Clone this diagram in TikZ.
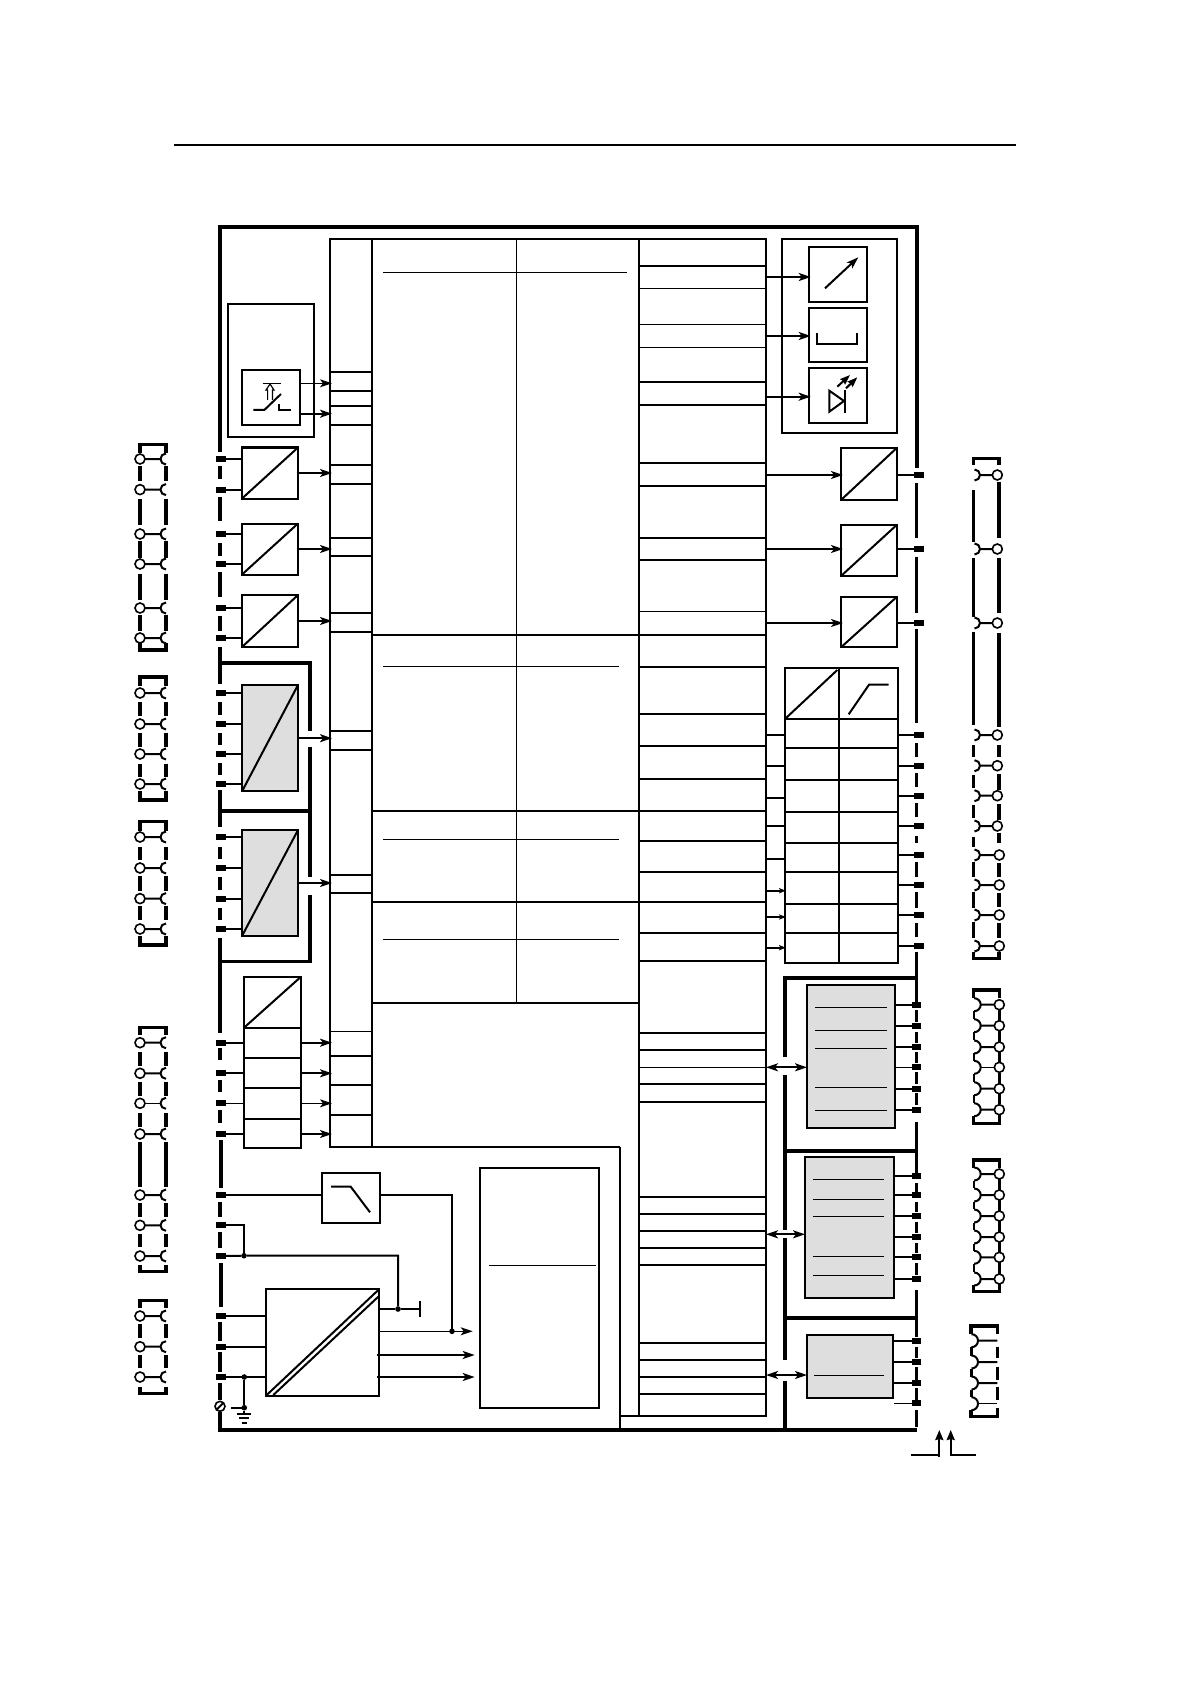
\documentclass[tikz,border=0pt]{standalone}
\usepackage{amsmath,amsthm,amssymb}
\usetikzlibrary{arrows.meta}

\begin{document}
\begin{tikzpicture}[x=0.5pt,y=0.5pt]
\tikzstyle{every node}+=[inner sep=0pt,outer sep=0pt]
\tikzstyle{frame}=[line width=1.9pt]
\tikzstyle{rail}=[line width=1.6pt]
\tikzstyle{railt}=[line width=1.2pt]
\tikzstyle{wire}=[line width=1pt]
\tikzstyle{fine}=[line width=.6pt]
\tikzstyle{box}=[draw,rectangle,line width=1pt]
\tikzstyle{greybox}=[box,fill=black!13]
\tikzstyle{term}=[fill=black,rectangle,minimum width=5pt,minimum height=3pt]
\tikzstyle{lug}=[draw,circle,fill=white,line width=.8pt,minimum size=5pt]
\tikzstyle{junc}=[fill=black,circle,minimum size=2.8pt]
\tikzstyle{arr}=[wire,shorten >=-1pt,shorten <=-.7pt,-{Stealth[length=6pt,width=4pt,inset=1.5pt]}]
\tikzstyle{arrs}=[wire,shorten >=-.5pt,shorten <=-.7pt,-{Stealth[length=3.5pt,width=2.6pt,inset=.8pt]}]
\tikzstyle{both}=[wire,{Stealth[length=6pt,width=4pt,inset=1.5pt]}-{Stealth[length=6pt,width=4pt,inset=1.5pt]}]
\useasboundingbox (0,0) rectangle (1190,-1684);
\coordinate (hdl) at (174,-145);
\coordinate (hdr) at (1016,-145);
\draw [fine] (hdl) -- (hdr);
\draw [frame] (220,-452) -- (220,-227.3) -- (916.7,-227.3) -- (916.7,-468);
\draw [frame] (220,-1411.7) -- (220,-1430) -- (916.7,-1430);
\draw [frame] (220,-663) -- (310,-663) -- (310,-730.7);
\draw [frame] (310,-746.8) -- (310,-811);
\draw [frame] (220,-811) -- (310,-811) -- (310,-877);
\draw [frame] (310,-895) -- (310,-961.5) -- (220,-961.5);
\draw [frame] (785,-1057) -- (785,-978) -- (916.7,-978);
\draw [frame] (785,-1075) -- (785,-1230);
\draw [frame] (785,-1238) -- (785,-1360);
\draw [frame] (785,-1380.7) -- (785,-1430);
\draw [frame] (785,-1150.7) -- (916.7,-1150.7);
\draw [frame] (785,-1318.3) -- (916.7,-1318.3);
\draw [rail] (220,-466.4) -- (220,-479) (220,-496.8) -- (220,-520.7) (220,-543) -- (220,-555.7) (220,-571.8) -- (220,-596.8) (220,-616.4) -- (220,-630.7) (220,-646.8) -- (220,-683.6);
\draw [rail] (220,-702) -- (220,-714.6) (220,-732.5) -- (220,-745) (220,-762.9) -- (220,-775.4) (220,-790) -- (220,-827);
\draw [rail] (220,-846.8) -- (220,-859.3) (220,-877) -- (220,-889.6) (220,-907.5) -- (220,-920) (220,-937.9) -- (220,-1032.7);
\draw [rail] (220,-1048.3) -- (220,-1060) (220,-1080) -- (220,-1092) (220,-1110) -- (220,-1123) (221,-1140) -- (221,-1188.3);
\draw [rail] (220,-1201.7) -- (220,-1216.7) (220,-1231.7) -- (220,-1248) (221,-1263.3) -- (221,-1306.7) (220,-1321.7) -- (220,-1341) (220,-1351.7) -- (220,-1371.7) (220,-1383) -- (220,-1400);
\draw [rail] (916.7,-483) -- (916.7,-538.3) (916.7,-556.7) -- (916.7,-613.3) (916.7,-629.3) -- (916.7,-722.7);
\draw [rail] (916.7,-743.3) -- (916.7,-756.7) (916.7,-773.3) -- (916.7,-787.3) (916.7,-803.3) -- (916.7,-816.7) (916.7,-836) -- (916.7,-842.7) (916.7,-861.7) -- (916.7,-876.7) (916.7,-891.7) -- (916.7,-908.3) (916.7,-923.3) -- (916.7,-936.7) (916.7,-951.7) -- (916.7,-1001.7);
\draw [rail] (916.7,-1010) -- (916.7,-1021.7) (916.7,-1031.7) -- (916.7,-1043.3) (916.7,-1051.7) -- (916.7,-1063.3) (916.7,-1071.7) -- (916.7,-1084) (916.7,-1093.3) -- (916.7,-1105) (916.7,-1121.7) -- (916.7,-1173.3);
\draw [rail] (916.7,-1183.3) -- (916.7,-1191.7) (916.7,-1201.7) -- (916.7,-1211.7) (916.7,-1221.7) -- (916.7,-1233.3) (916.7,-1243.3) -- (916.7,-1253.3) (916.7,-1263.3) -- (916.7,-1275) (916.7,-1290) -- (916.7,-1336.7);
\draw [rail] (916.7,-1346.7) -- (916.7,-1358.3) (916.7,-1366.7) -- (916.7,-1380) (916.7,-1388.3) -- (916.7,-1400) (916.7,-1410) -- (916.7,-1426.7);
\node [box,minimum width=21pt,minimum height=454pt] (busl) at (351,-693) {};
\node [box,minimum width=63.5pt,minimum height=588.5pt] (busr) at (702.5,-827.5) {};
\draw [wire] (372,-239) -- (639,-239);
\draw [wire] (372,-1147.3) -- (620,-1147.3);
\draw [wire] (620,-1147.3) -- (620,-1430);
\draw [fine] (620,-1416) -- (639,-1416);
\draw [fine] (516.7,-239) -- (516.7,-1002.7);
\draw [wire] (372,-635) -- (639,-635);
\draw [wire] (372,-811) -- (639,-811);
\draw [wire] (372,-901.8) -- (639,-901.8);
\draw [wire] (372,-1002.7) -- (639,-1002.7);
\draw [fine] (383,-272.3) -- (627,-272.3);
\draw [fine] (383,-666.4) -- (619,-666.4);
\draw [fine] (383,-839.3) -- (619,-839.3);
\draw [fine] (383,-939.3) -- (619,-939.3);
\draw [wire] (330,-372) -- (372,-372);
\draw [wire] (330,-391) -- (372,-391);
\draw [wire] (330,-406) -- (372,-406);
\draw [wire] (330,-424.7) -- (372,-424.7);
\draw [wire] (330,-464.6) -- (372,-464.6);
\draw [wire] (330,-483.6) -- (372,-483.6);
\draw [wire] (330,-537.9) -- (372,-537.9);
\draw [wire] (330,-556) -- (372,-556);
\draw [wire] (330,-612.9) -- (372,-612.9);
\draw [wire] (330,-631.8) -- (372,-631.8);
\draw [wire] (330,-731) -- (372,-731);
\draw [wire] (330,-750) -- (372,-750);
\draw [wire] (330,-875) -- (372,-875);
\draw [wire] (330,-893.2) -- (372,-893.2);
\draw [fine] (330,-1031.3) -- (372,-1031.3);
\draw [wire] (330,-1056) -- (372,-1056);
\draw [wire] (330,-1085) -- (372,-1085);
\draw [wire] (330,-1115) -- (372,-1115);
\draw [wire] (639,-265.7) -- (766,-265.7);
\draw [fine] (639,-288.3) -- (766,-288.3);
\draw [fine] (639,-324.3) -- (766,-324.3);
\draw [fine] (639,-347.3) -- (766,-347.3);
\draw [wire] (639,-381.7) -- (766,-381.7);
\draw [wire] (639,-404.7) -- (766,-404.7);
\draw [wire] (639,-463) -- (766,-463);
\draw [wire] (639,-486) -- (766,-486);
\draw [wire] (639,-538) -- (766,-538);
\draw [wire] (639,-560) -- (766,-560);
\draw [fine] (639,-611.3) -- (766,-611.3);
\draw [wire] (639,-635) -- (766,-635);
\draw [wire] (639,-666.7) -- (766,-666.7);
\draw [wire] (639,-713.7) -- (766,-713.7);
\draw [wire] (639,-746) -- (766,-746);
\draw [wire] (639,-778.7) -- (766,-778.7);
\draw [wire] (639,-811) -- (766,-811);
\draw [wire] (639,-841) -- (766,-841);
\draw [wire] (639,-871.7) -- (766,-871.7);
\draw [wire] (639,-902) -- (766,-902);
\draw [wire] (639,-932.7) -- (766,-932.7);
\draw [wire] (639,-960.7) -- (766,-960.7);
\draw [wire] (639,-1032.7) -- (766,-1032.7);
\draw [wire] (639,-1050) -- (766,-1050);
\draw [fine] (639,-1067.3) -- (766,-1067.3);
\draw [wire] (639,-1084) -- (766,-1084);
\draw [wire] (639,-1102) -- (766,-1102);
\draw [wire] (639,-1196.7) -- (766,-1196.7);
\draw [wire] (639,-1214) -- (766,-1214);
\draw [wire] (639,-1230.7) -- (766,-1230.7);
\draw [wire] (639,-1247.7) -- (766,-1247.7);
\draw [wire] (639,-1265) -- (766,-1265);
\draw [wire] (639,-1342.7) -- (766,-1342.7);
\draw [wire] (639,-1359.7) -- (766,-1359.7);
\draw [wire] (639,-1377) -- (766,-1377);
\draw [wire] (639,-1393.7) -- (766,-1393.7);
\node [term] (tl1) at (221,-459) {};
\node [lug] (pl1) at (140,-459) {};
\coordinate (hl1) at (160.5,-459);
\draw [wire] (pl1) -- (hl1) ++(5.5,5.5) arc (90:270:5.5);
\node [term] (tl2) at (221,-489.6) {};
\node [lug] (pl2) at (140,-489.6) {};
\coordinate (hl2) at (160.5,-489.6);
\draw [wire] (pl2) -- (hl2) ++(5.5,5.5) arc (90:270:5.5);
\node [term] (tl3) at (221,-534) {};
\node [lug] (pl3) at (140,-534) {};
\coordinate (hl3) at (160.5,-534);
\draw [wire] (pl3) -- (hl3) ++(5.5,5.5) arc (90:270:5.5);
\node [term] (tl4) at (221,-564) {};
\node [lug] (pl4) at (140,-564) {};
\coordinate (hl4) at (160.5,-564);
\draw [wire] (pl4) -- (hl4) ++(5.5,5.5) arc (90:270:5.5);
\node [term] (tl5) at (221,-608) {};
\node [lug] (pl5) at (140,-608) {};
\coordinate (hl5) at (160.5,-608);
\draw [wire] (pl5) -- (hl5) ++(5.5,5.5) arc (90:270:5.5);
\node [term] (tl6) at (221,-638) {};
\node [lug] (pl6) at (140,-638) {};
\coordinate (hl6) at (160.5,-638);
\draw [wire] (pl6) -- (hl6) ++(5.5,5.5) arc (90:270:5.5);
\node [term] (tl7) at (221,-693) {};
\node [lug] (pl7) at (140,-693) {};
\coordinate (hl7) at (160.5,-693);
\draw [wire] (pl7) -- (hl7) ++(5.5,5.5) arc (90:270:5.5);
\node [term] (tl8) at (221,-724) {};
\node [lug] (pl8) at (140,-724) {};
\coordinate (hl8) at (160.5,-724);
\draw [wire] (pl8) -- (hl8) ++(5.5,5.5) arc (90:270:5.5);
\node [term] (tl9) at (221,-754) {};
\node [lug] (pl9) at (140,-754) {};
\coordinate (hl9) at (160.5,-754);
\draw [wire] (pl9) -- (hl9) ++(5.5,5.5) arc (90:270:5.5);
\node [term] (tl10) at (221,-784) {};
\node [lug] (pl10) at (140,-784) {};
\coordinate (hl10) at (160.5,-784);
\draw [wire] (pl10) -- (hl10) ++(5.5,5.5) arc (90:270:5.5);
\node [term] (tl11) at (221,-837) {};
\node [lug] (pl11) at (140,-837) {};
\coordinate (hl11) at (160.5,-837);
\draw [wire] (pl11) -- (hl11) ++(5.5,5.5) arc (90:270:5.5);
\node [term] (tl12) at (221,-868) {};
\node [lug] (pl12) at (140,-868) {};
\coordinate (hl12) at (160.5,-868);
\draw [wire] (pl12) -- (hl12) ++(5.5,5.5) arc (90:270:5.5);
\node [term] (tl13) at (221,-898.6) {};
\node [lug] (pl13) at (140,-898.6) {};
\coordinate (hl13) at (160.5,-898.6);
\draw [wire] (pl13) -- (hl13) ++(5.5,5.5) arc (90:270:5.5);
\node [term] (tl14) at (221,-929) {};
\node [lug] (pl14) at (140,-929) {};
\coordinate (hl14) at (160.5,-929);
\draw [wire] (pl14) -- (hl14) ++(5.5,5.5) arc (90:270:5.5);
\node [term] (tl15) at (221,-1042.7) {};
\node [lug] (pl15) at (140,-1042.7) {};
\coordinate (hl15) at (160.5,-1042.7);
\draw [wire] (pl15) -- (hl15) ++(5.5,5.5) arc (90:270:5.5);
\node [term] (tl16) at (221,-1073.3) {};
\node [lug] (pl16) at (140,-1073.3) {};
\coordinate (hl16) at (160.5,-1073.3);
\draw [wire] (pl16) -- (hl16) ++(5.5,5.5) arc (90:270:5.5);
\node [term] (tl17) at (221,-1103.3) {};
\node [lug] (pl17) at (140,-1103.3) {};
\coordinate (hl17) at (160.5,-1103.3);
\draw [fine] (pl17) -- (hl17);
\draw [wire] (hl17) ++(5.5,5.5) arc (90:270:5.5);
\node [term] (tl18) at (221,-1134) {};
\node [lug] (pl18) at (140,-1134) {};
\coordinate (hl18) at (160.5,-1134);
\draw [wire] (pl18) -- (hl18) ++(5.5,5.5) arc (90:270:5.5);
\node [term] (tl19) at (221,-1195) {};
\node [lug] (pl19) at (140,-1195) {};
\coordinate (hl19) at (160.5,-1195);
\draw [wire] (pl19) -- (hl19) ++(5.5,5.5) arc (90:270:5.5);
\node [term] (tl20) at (221,-1225.3) {};
\node [lug] (pl20) at (140,-1225.3) {};
\coordinate (hl20) at (160.5,-1225.3);
\draw [wire] (pl20) -- (hl20) ++(5.5,5.5) arc (90:270:5.5);
\node [term] (tl21) at (221,-1256) {};
\node [lug] (pl21) at (140,-1256) {};
\coordinate (hl21) at (160.5,-1256);
\draw [wire] (pl21) -- (hl21) ++(5.5,5.5) arc (90:270:5.5);
\node [term] (tl22) at (221,-1316) {};
\node [lug] (pl22) at (140,-1316) {};
\coordinate (hl22) at (160.5,-1316);
\draw [wire] (pl22) -- (hl22) ++(5.5,5.5) arc (90:270:5.5);
\node [term] (tl23) at (221,-1346.7) {};
\node [lug] (pl23) at (140,-1346.7) {};
\coordinate (hl23) at (160.5,-1346.7);
\draw [wire] (pl23) -- (hl23) ++(5.5,5.5) arc (90:270:5.5);
\node [term] (tl24) at (221,-1377) {};
\node [lug] (pl24) at (140,-1377) {};
\coordinate (hl24) at (160.5,-1377);
\draw [wire] (pl24) -- (hl24) ++(5.5,5.5) arc (90:270:5.5);
\draw [rail] (140,-453) -- (140,-444.3) -- (166,-444.3) -- (166,-453);
\draw [rail] (140,-466.4) -- (140,-480.7) (140,-498.6) -- (140,-525.4) (140,-541.4) -- (140,-557.5) (140,-573.6) -- (140,-600.4) (140,-614.6) -- (140,-630.7);
\draw [rail] (166,-466.4) -- (166,-480.7) (166,-498.6) -- (166,-525.4) (166,-541.4) -- (166,-557.5) (166,-573.6) -- (166,-600.4) (166,-614.6) -- (166,-630.7);
\draw [rail] (140,-643) -- (140,-650) -- (166,-650) -- (166,-643);
\draw [rail] (140,-686) -- (140,-677) -- (166,-677) -- (166,-686);
\draw [rail] (140,-702) -- (140,-716.4) (140,-732.5) -- (140,-746.8) (140,-763.6) -- (140,-777);
\draw [rail] (166,-702) -- (166,-716.4) (166,-732.5) -- (166,-746.8) (166,-763.6) -- (166,-777);
\draw [rail] (140,-791.4) -- (140,-800) -- (166,-800) -- (166,-791.4);
\draw [rail] (140,-830.7) -- (140,-821.8) -- (166,-821.8) -- (166,-830.7);
\draw [rail] (140,-846.8) -- (140,-860) (140,-876.4) -- (140,-890.7) (140,-906.4) -- (140,-920);
\draw [rail] (166,-846.8) -- (166,-860) (166,-876.4) -- (166,-890.7) (166,-906.4) -- (166,-920);
\draw [rail] (140,-936) -- (140,-945) -- (166,-945) -- (166,-936);
\draw [rail] (140,-1035) -- (140,-1027.7) -- (166,-1027.7) -- (166,-1035);
\draw [rail] (140,-1051.7) -- (140,-1066) (140,-1081.7) -- (140,-1096) (140,-1113.3) -- (140,-1126.7) (140,-1141.7) -- (140,-1186.7) (140,-1203.3) -- (140,-1216.7) (140,-1234) -- (140,-1247.3);
\draw [rail] (166,-1051.7) -- (166,-1066) (166,-1081.7) -- (166,-1096) (166,-1113.3) -- (166,-1126.7) (166,-1141.7) -- (166,-1186.7) (166,-1203.3) -- (166,-1216.7) (166,-1234) -- (166,-1247.3);
\draw [rail] (140,-1265) -- (140,-1271.7) -- (166,-1271.7) -- (166,-1265);
\draw [rail] (140,-1308.3) -- (140,-1300.7) -- (166,-1300.7) -- (166,-1308.3);
\draw [rail] (140,-1324) -- (140,-1338.3) (140,-1355) -- (140,-1368.3);
\draw [rail] (166,-1324) -- (166,-1338.3) (166,-1355) -- (166,-1368.3);
\draw [rail] (140,-1387.3) -- (140,-1393.3) -- (166,-1393.3) -- (166,-1387.3);
\node [box,minimum width=43.3pt,minimum height=66.6pt] (sens) at (271,-370.6) {};
\node [box,minimum width=29.1pt,minimum height=27.8pt] (swit) at (270.9,-397.5) {};
\draw [fine,shorten >=-1pt,-{Stealth[length=6pt,width=4pt,inset=1.5pt]}] (swit.east |- 0,-383.3) -- (busl.west |- 0,-383.3);
\draw [arr] (swit.east |- 0,-413.7) -- (busl.west |- 0,-413.7);
\draw [fine] (262.7,-383.3) -- (281,-383.3);
\draw [fine] (267.6,-400) -- (267.6,-390) -- (266,-390) -- (270,-384) -- (274,-390) -- (272.4,-390) -- (272.4,-400);
\draw [wire] (253.3,-410) -- (264.3,-410) -- (281,-394);
\draw [wire] (279.3,-404) -- (279.3,-410) -- (291,-410);
\node [box,minimum width=28pt,minimum height=25.5pt] (ad1) at (270,-473) {};
\draw [wire] (ad1.south west) -- (ad1.north east);
\draw [wire] (tl1) -- (tl1 -| ad1.west);
\draw [wire] (tl2) -- (tl2 -| ad1.west);
\draw [arr] (ad1.east) -- (ad1.east -| busl.west);
\node [box,minimum width=28pt,minimum height=25.5pt] (ad2) at (270,-549) {};
\draw [wire] (ad2.south west) -- (ad2.north east);
\draw [wire] (tl3) -- (tl3 -| ad2.west);
\draw [wire] (tl4) -- (tl4 -| ad2.west);
\draw [arr] (ad2.east) -- (ad2.east -| busl.west);
\node [box,minimum width=28pt,minimum height=26pt] (ad3) at (270,-621) {};
\draw [wire] (ad3.south west) -- (ad3.north east);
\draw [wire] (tl5) -- (tl5 -| ad3.west);
\draw [wire] (tl6) -- (tl6 -| ad3.west);
\draw [arr] (ad3.east) -- (ad3.east -| busl.west);
\node [greybox,minimum width=28pt,minimum height=53.2pt] (ad4) at (270,-738.2) {};
\draw [wire] (ad4.south west) -- (ad4.north east);
\draw [wire] (tl7) -- (tl7 -| ad4.west);
\draw [wire] (tl8) -- (tl8 -| ad4.west);
\draw [wire] (tl9) -- (tl9 -| ad4.west);
\draw [wire] (tl10) -- (tl10 -| ad4.west);
\draw [arr] (ad4.east) -- (ad4.east -| busl.west);
\node [greybox,minimum width=28pt,minimum height=53pt] (ad5) at (270,-883) {};
\draw [wire] (ad5.south west) -- (ad5.north east);
\draw [wire] (tl11) -- (tl11 -| ad5.west);
\draw [wire] (tl12) -- (tl12 -| ad5.west);
\draw [wire] (tl13) -- (tl13 -| ad5.west);
\draw [wire] (tl14) -- (tl14 -| ad5.west);
\draw [arr] (ad5.east) -- (ad5.east -| busl.west);
\node [box,minimum width=28.5pt,minimum height=25.5pt] (din) at (272.5,-1002.2) {};
\draw [wire] (din.south west) -- (din.north east);
\node [box,minimum width=28.5pt,minimum height=15pt] (din1) at (272.5,-1042.7) {};
\node [box,minimum width=28.5pt,minimum height=15.15pt] (din2) at (272.5,-1072.85) {};
\node [box,minimum width=28.5pt,minimum height=15.5pt] (din3) at (272.5,-1103.5) {};
\node [box,minimum width=28.5pt,minimum height=14.65pt] (din4) at (272.5,-1133.65) {};
\draw [wire] (tl15) -- (tl15 -| din1.west);
\draw [wire] (tl16) -- (tl16 -| din2.west);
\draw [fine] (tl17) -- (tl17 -| din3.west);
\draw [wire] (tl18) -- (tl18 -| din4.west);
\draw [arr] (din1.east |- tl15) -- (tl15 -| busl.west);
\draw [arr] (din2.east |- tl16) -- (tl16 -| busl.west);
\draw [fine,shorten >=-1pt,-{Stealth[length=6pt,width=4pt,inset=1.5pt]}] (din3.east |- tl17) -- (tl17 -| busl.west);
\draw [arr] (din4.east |- tl18) -- (tl18 -| busl.west);
\node [box,minimum width=29.15pt,minimum height=25.3pt] (lowp) at (350.85,-1198) {};
\draw [wire] (331,-1186.7) -- (350.7,-1186.7) -- (370,-1212.3);
\draw [wire] (tl19) -- (tl19 -| lowp.west);
\node [box,minimum width=56.5pt,minimum height=53.35pt] (psu) at (322.2,-1342.65) {};
\draw [wire] (266.7,-1395) -- (378.3,-1290);
\draw [wire] (273.3,-1395) -- (378.3,-1296.7);
\node [box,minimum width=59.65pt,minimum height=120pt] (cpu) at (539.65,-1287.7) {};
\draw [fine] (489.3,-1265.3) -- (596,-1265.3);
\node [junc] (j1) at (452,-1331.3) {};
\node [junc] (j2) at (244,-1255.7) {};
\node [junc] (j3) at (398,-1309) {};
\node [junc] (j4) at (244.3,-1377) {};
\node [junc] (j5) at (244.3,-1407.7) {};
\coordinate (cp1) at (472.7,-1331.3);
\coordinate (cp2) at (472.7,-1355);
\coordinate (cp3) at (472.7,-1377);
\coordinate (vbar) at (420,-1309);
\draw [wire] (lowp.east |- tl19) -- (tl19 -| j1) -- (j1);
\draw [fine,-{Stealth[length=6pt,width=4pt,inset=1.5pt]}] (psu.east |- cp1) -- (cp1);
\draw [arr] (psu.east |- cp2) -- (cp2);
\draw [arr] (psu.east |- cp3) -- (cp3);
\draw [wire] (tl20) -- (tl20 -| j2) -- (j2);
\draw [wire] (tl21) -- (j2) -- (j2 -| j3) -- (j3);
\draw [wire] (psu.east |- j3) -- (j3) -- (vbar);
\draw [wire] (420,-1300.7) -- (420,-1316.7);
\draw [wire] (tl22) -- (tl22 -| psu.west);
\draw [wire] (tl23) -- (tl23 -| psu.west);
\draw [wire] (tl24) -- (tl24 -| psu.west);
\draw [wire] (j4) -- (j5);
\draw [wire] (231,-1407.7) -- (j5) -- (244.3,-1414.3);
\draw [wire] (237.3,-1414.3) -- (250.7,-1414.3);
\draw [wire] (239.3,-1418.3) -- (249.3,-1418.3);
\draw [wire] (241.7,-1422.7) -- (246.7,-1422.7);
\node [lug] (gnd) at (220,-1406.3) {};
\draw [wire] (gnd.south west) -- (gnd.north east);
\node [box,minimum width=57.8pt,minimum height=96.85pt] (disp) at (839.5,-335.85) {};
\node [box,minimum width=29.3pt,minimum height=27.65pt] (gauge) at (838,-274.35) {};
\node [box,minimum width=29.3pt,minimum height=27pt] (dig) at (838,-335) {};
\node [box,minimum width=29.3pt,minimum height=27.8pt] (led) at (838,-395.5) {};
\draw [arr] (busr.east |- 0,-277) -- (gauge.west |- 0,-277);
\draw [arr] (busr.east |- 0,-336) -- (dig.west |- 0,-336);
\draw [arr] (busr.east |- 0,-396.7) -- (led.west |- 0,-396.7);
\draw [wire,-{Stealth[length=6pt,width=4pt,inset=1.5pt]}] (825,-288.3) -- (858.3,-257.3);
\draw [wire] (816.7,-333.3) -- (816.7,-344) -- (857.3,-344) -- (857.3,-333.3);
\draw [wire] (829.3,-390.7) -- (829.3,-411.7) -- (844,-401) -- cycle;
\draw [wire] (845,-390) -- (845,-412.7);
\draw [wire,-{Stealth[length=5pt,width=3.6pt,inset=.5pt]}] (837.3,-386.7) -- (850,-375);
\draw [wire,-{Stealth[length=5pt,width=3.6pt,inset=.5pt]}] (846,-388.3) -- (857.3,-377.3);
\node [term] (tr1) at (918.5,-475) {};
\node [lug] (pr1) at (997.3,-475) {};
\coordinate (hr1) at (980,-475);
\draw [wire] (pr1) -- (hr1) ++(-5.5,5.5) arc (90:-90:5.5);
\node [term] (tr2) at (918.5,-549) {};
\node [lug] (pr2) at (997.3,-549) {};
\coordinate (hr2) at (980,-549);
\draw [wire] (pr2) -- (hr2) ++(-5.5,5.5) arc (90:-90:5.5);
\node [term] (tr3) at (918.5,-623) {};
\node [lug] (pr3) at (997.3,-623) {};
\coordinate (hr3) at (980,-623);
\draw [wire] (pr3) -- (hr3) ++(-5.5,5.5) arc (90:-90:5.5);
\node [term] (tr4) at (918.5,-735) {};
\node [lug] (pr4) at (997.3,-735) {};
\coordinate (hr4) at (980,-735);
\draw [wire] (pr4) -- (hr4) ++(-5.5,5.5) arc (90:-90:5.5);
\node [term] (tr5) at (918.5,-765.7) {};
\node [lug] (pr5) at (997.3,-765.7) {};
\coordinate (hr5) at (980,-765.7);
\draw [wire] (pr5) -- (hr5) ++(-5.5,5.5) arc (90:-90:5.5);
\node [term] (tr6) at (918.5,-795.7) {};
\node [lug] (pr6) at (997.3,-795.7) {};
\coordinate (hr6) at (980,-795.7);
\draw [wire] (pr6) -- (hr6) ++(-5.5,5.5) arc (90:-90:5.5);
\node [term] (tr7) at (918.5,-826) {};
\node [lug] (pr7) at (997.3,-826) {};
\coordinate (hr7) at (980,-826);
\draw [wire] (pr7) -- (hr7) ++(-5.5,5.5) arc (90:-90:5.5);
\node [term] (tr8) at (918.5,-855) {};
\node [lug] (pr8) at (999.3,-855) {};
\coordinate (hr8) at (980,-855);
\draw [wire] (pr8) -- (hr8) ++(-5.5,5.5) arc (90:-90:5.5);
\node [term] (tr9) at (918.5,-885) {};
\node [lug] (pr9) at (999.3,-885) {};
\coordinate (hr9) at (980,-885);
\draw [wire] (pr9) -- (hr9) ++(-5.5,5.5) arc (90:-90:5.5);
\node [term] (tr10) at (918.5,-915) {};
\node [lug] (pr10) at (999.3,-915) {};
\coordinate (hr10) at (980,-915);
\draw [wire] (pr10) -- (hr10) ++(-5.5,5.5) arc (90:-90:5.5);
\node [term] (tr11) at (918.5,-946) {};
\node [lug] (pr11) at (999.3,-946) {};
\coordinate (hr11) at (980,-946);
\draw [wire] (pr11) -- (hr11) ++(-5.5,5.5) arc (90:-90:5.5);
\node [box,minimum width=28pt,minimum height=26.15pt] (da1) at (869,-473.85) {};
\draw [wire] (da1.south west) -- (da1.north east);
\draw [arr] (busr.east |- tr1) -- (tr1 -| da1.west);
\draw [wire] (da1.east |- tr1) -- (tr1);
\node [box,minimum width=28pt,minimum height=25.65pt] (da2) at (869,-550.35) {};
\draw [wire] (da2.south west) -- (da2.north east);
\draw [arr] (busr.east |- tr2) -- (tr2 -| da2.west);
\draw [wire] (da2.east |- tr2) -- (tr2);
\node [box,minimum width=28pt,minimum height=25.3pt] (da3) at (869,-622) {};
\draw [wire] (da3.south west) -- (da3.north east);
\draw [arr] (busr.east |- tr3) -- (tr3 -| da3.west);
\draw [wire] (da3.east |- tr3) -- (tr3);
\node [box,minimum width=27pt,minimum height=25.65pt] (aoh) at (812,-693.35) {};
\node [box,minimum width=29.35pt,minimum height=25.65pt] (aoc) at (868.35,-693.35) {};
\draw [wire] (785.7,-718.3) -- (837.3,-670);
\draw [wire] (848.7,-714.3) -- (869,-684.7) -- (888.7,-684.7);
\node [box,minimum width=56.35pt,minimum height=121.85pt] (aout) at (841.35,-840.85) {};
\draw [wire] (839,-719) -- (839,-962.7);
\draw [wire] (785,-748) -- (897.7,-748);
\draw [wire] (785,-779.7) -- (897.7,-779.7);
\draw [wire] (785,-812) -- (897.7,-812);
\draw [wire] (785,-842.7) -- (897.7,-842.7);
\draw [wire] (785,-871.7) -- (897.7,-871.7);
\draw [wire] (785,-904) -- (897.7,-904);
\draw [wire] (785,-933) -- (897.7,-933);
\draw [wire] (busr.east |- tr4) -- (tr4 -| aout.west);
\draw [wire] (busr.east |- tr5) -- (tr5 -| aout.west);
\draw [wire] (busr.east |- 0,-797.7) -- (aout.west |- 0,-797.7);
\draw [wire] (busr.east |- 0,-825.7) -- (aout.west |- 0,-825.7);
\draw [wire] (busr.east |- 0,-858.7) -- (aout.west |- 0,-858.7);
\draw [arrs] (busr.east |- 0,-890.7) -- (aout.west |- 0,-890.7);
\draw [arrs] (busr.east |- 0,-917) -- (aout.west |- 0,-917);
\draw [arrs] (busr.east |- 0,-947.7) -- (aout.west |- 0,-947.7);
\draw [wire] (aout.east |- tr4) -- (tr4);
\draw [wire] (aout.east |- tr5) -- (tr5);
\draw [wire] (aout.east |- tr6) -- (tr6);
\draw [wire] (aout.east |- tr7) -- (tr7);
\draw [wire] (aout.east |- tr8) -- (tr8);
\draw [wire] (aout.east |- tr9) -- (tr9);
\draw [wire] (aout.east |- tr10) -- (tr10);
\draw [wire] (aout.east |- tr11) -- (tr11);
\draw [rail] (973.3,-465) -- (973.3,-458.3) -- (999,-458.3) -- (999,-465);
\draw [railt] (973.3,-490) -- (973.3,-541.7) (973.3,-558) -- (973.3,-616.7) (973.3,-631.7) -- (973.3,-725);
\draw [rail] (999,-481.7) -- (999,-538.3) (999,-558) -- (999,-613) (999,-633.3) -- (999,-726.7);
\draw [railt] (973.3,-745) -- (973.3,-756.7) (973.3,-775) -- (973.3,-788) (973.3,-805) -- (973.3,-818) (973.3,-836.7) -- (973.3,-846.7) (973.3,-861.7) -- (973.3,-876.7) (973.3,-891.7) -- (973.3,-908) (973.3,-921.7) -- (973.3,-938);
\draw [rail] (999,-745) -- (999,-756.7) (999,-774) -- (999,-790) (999,-804) -- (999,-820) (999,-832.7) -- (999,-842.7) (999,-863.3) -- (999,-876.7) (999,-893.3) -- (999,-906.7) (999,-923.3) -- (999,-938);
\draw [rail] (973.3,-951.7) -- (973.3,-958.3) -- (999,-958.3) -- (999,-951.7);
\node [greybox,minimum width=44pt,minimum height=71.8pt] (io1) at (851,-1056.5) {};
\draw [fine] (815,-1007.3) -- (886.7,-1007.3);
\draw [fine] (815,-1030.3) -- (886.7,-1030.3);
\draw [fine] (815,-1048.3) -- (886.7,-1048.3);
\draw [fine] (815,-1087.3) -- (886.7,-1087.3);
\draw [fine] (815,-1110.3) -- (886.7,-1110.3);
\node [greybox,minimum width=44.5pt,minimum height=70.5pt] (io2) at (849.5,-1227.5) {};
\draw [fine] (813.3,-1179.3) -- (884.3,-1179.3);
\draw [fine] (813.3,-1199.3) -- (884.3,-1199.3);
\draw [fine] (813.3,-1216.3) -- (884.3,-1216.3);
\draw [fine] (813.3,-1256.3) -- (884.3,-1256.3);
\draw [fine] (813.3,-1275.3) -- (884.3,-1275.3);
\node [greybox,minimum width=43pt,minimum height=31.35pt] (io3) at (850,-1366.35) {};
\draw [fine] (814,-1375.3) -- (884.3,-1375.3);
\node [term,minimum width=4.5pt] (tr12) at (916.7,-1004.7) {};
\node [lug] (pr12) at (999.3,-1004.7) {};
\coordinate (hr12) at (980.7,-1004.7);
\draw [wire] (pr12) -- (hr12) ++(-6.5,6.5) arc (90:-90:6.5);
\draw [wire] (io1.east |- tr12) -- (tr12);
\node [term,minimum width=4.5pt] (tr13) at (916.7,-1025.7) {};
\node [lug] (pr13) at (999.3,-1025.7) {};
\coordinate (hr13) at (980.7,-1025.7);
\draw [wire] (pr13) -- (hr13) ++(-6.5,6.5) arc (90:-90:6.5);
\draw [wire] (io1.east |- tr13) -- (tr13);
\node [term,minimum width=4.5pt] (tr14) at (916.7,-1047) {};
\node [lug] (pr14) at (999.3,-1047) {};
\coordinate (hr14) at (980.7,-1047);
\draw [wire] (pr14) -- (hr14) ++(-6.5,6.5) arc (90:-90:6.5);
\draw [wire] (io1.east |- tr14) -- (tr14);
\node [term,minimum width=4.5pt] (tr15) at (916.7,-1067.3) {};
\node [lug] (pr15) at (999.3,-1067.3) {};
\coordinate (hr15) at (980.7,-1067.3);
\draw [fine] (pr15) -- (hr15);
\draw [wire] (hr15) ++(-6.5,6.5) arc (90:-90:6.5);
\draw [fine] (io1.east |- tr15) -- (tr15);
\node [term,minimum width=4.5pt] (tr16) at (916.7,-1088.7) {};
\node [lug] (pr16) at (999.3,-1088.7) {};
\coordinate (hr16) at (980.7,-1088.7);
\draw [wire] (pr16) -- (hr16) ++(-6.5,6.5) arc (90:-90:6.5);
\draw [wire] (io1.east |- tr16) -- (tr16);
\node [term,minimum width=4.5pt] (tr17) at (916.7,-1109.7) {};
\node [lug] (pr17) at (999.3,-1109.7) {};
\coordinate (hr17) at (980.7,-1109.7);
\draw [wire] (pr17) -- (hr17) ++(-6.5,6.5) arc (90:-90:6.5);
\draw [wire] (io1.east |- tr17) -- (tr17);
\draw [both] (busr.east |- tr15) -- (tr15 -| io1.west);
\draw [rail] (973.3,-998) -- (973.3,-990) -- (999.3,-990) -- (999.3,-998);
\draw [railt] (974,-1011) -- (974,-1019) (974,-1032) -- (974,-1040) (974,-1053) -- (974,-1061) (974,-1074) -- (974,-1082) (974,-1095) -- (974,-1103);
\draw [rail] (999.3,-1010) -- (999.3,-1021) (999.3,-1031) -- (999.3,-1042) (999.3,-1052) -- (999.3,-1062) (999.3,-1073) -- (999.3,-1084) (999.3,-1094) -- (999.3,-1104);
\draw [rail] (973.3,-1116) -- (973.3,-1123.3) -- (999.3,-1123.3) -- (999.3,-1115);
\node [term,minimum width=4.5pt] (tr18) at (916.7,-1175.7) {};
\node [lug] (pr18) at (999.3,-1174) {};
\coordinate (hr18) at (980.7,-1174);
\draw [wire] (pr18) -- (hr18) ++(-6.5,6.5) arc (90:-90:6.5);
\draw [wire] (io2.east |- tr18) -- (tr18);
\node [term,minimum width=4.5pt] (tr19) at (916.7,-1195) {};
\node [lug] (pr19) at (999.3,-1195) {};
\coordinate (hr19) at (980.7,-1195);
\draw [wire] (pr19) -- (hr19) ++(-6.5,6.5) arc (90:-90:6.5);
\draw [wire] (io2.east |- tr19) -- (tr19);
\node [term,minimum width=4.5pt] (tr20) at (916.7,-1216) {};
\node [lug] (pr20) at (999.3,-1216) {};
\coordinate (hr20) at (980.7,-1216);
\draw [wire] (pr20) -- (hr20) ++(-6.5,6.5) arc (90:-90:6.5);
\draw [wire] (io2.east |- tr20) -- (tr20);
\node [term,minimum width=4.5pt] (tr21) at (916.7,-1237) {};
\node [lug] (pr21) at (999.3,-1237) {};
\coordinate (hr21) at (980.7,-1237);
\draw [wire] (pr21) -- (hr21) ++(-6.5,6.5) arc (90:-90:6.5);
\draw [wire] (io2.east |- tr21) -- (tr21);
\node [term,minimum width=4.5pt] (tr22) at (916.7,-1257.3) {};
\node [lug] (pr22) at (999.3,-1257.3) {};
\coordinate (hr22) at (980.7,-1257.3);
\draw [wire] (pr22) -- (hr22) ++(-6.5,6.5) arc (90:-90:6.5);
\draw [wire] (io2.east |- tr22) -- (tr22);
\node [term,minimum width=4.5pt] (tr23) at (916.7,-1279) {};
\node [lug] (pr23) at (999.3,-1279) {};
\coordinate (hr23) at (980.7,-1279);
\draw [wire] (pr23) -- (hr23) ++(-6.5,6.5) arc (90:-90:6.5);
\draw [wire] (io2.east |- tr23) -- (tr23);
\draw [both] (busr.east |- 0,-1234.3) -- (io2.west |- 0,-1234.3);
\draw [rail] (973.3,-1168) -- (973.3,-1160) -- (999.3,-1160) -- (999.3,-1168);
\draw [railt] (974,-1181) -- (974,-1188) (974,-1202) -- (974,-1209) (974,-1223) -- (974,-1230) (974,-1244) -- (974,-1251) (974,-1264) -- (974,-1272);
\draw [rail] (999.3,-1179) -- (999.3,-1190) (999.3,-1200) -- (999.3,-1211) (999.3,-1221) -- (999.3,-1232) (999.3,-1242) -- (999.3,-1252) (999.3,-1262) -- (999.3,-1274);
\draw [rail] (973.3,-1285) -- (973.3,-1291.7) -- (999.3,-1291.7) -- (999.3,-1284);
\node [term,minimum width=4.5pt] (tr24) at (916.7,-1340.7) {};
\coordinate (er24) at (997.3,-1340.7);
\coordinate (hr24) at (978,-1340.7);
\draw [wire] (er24) -- (hr24) ++(-6.5,6.5) arc (90:-90:6.5);
\draw [wire] (io3.east |- tr24) -- (tr24);
\node [term,minimum width=4.5pt] (tr25) at (916.7,-1362) {};
\coordinate (er25) at (997.3,-1362);
\coordinate (hr25) at (978,-1362);
\draw [wire] (er25) -- (hr25) ++(-6.5,6.5) arc (90:-90:6.5);
\draw [wire] (io3.east |- tr25) -- (tr25);
\node [term,minimum width=4.5pt] (tr26) at (916.7,-1383) {};
\coordinate (er26) at (997.3,-1383);
\coordinate (hr26) at (978,-1383);
\draw [wire] (er26) -- (hr26) ++(-6.5,6.5) arc (90:-90:6.5);
\draw [wire] (io3.east |- tr26) -- (tr26);
\node [term,minimum width=4.5pt] (tr27) at (916.7,-1403.3) {};
\coordinate (er27) at (997.3,-1403.7);
\coordinate (hr27) at (978,-1403.7);
\draw [fine] (er27) -- (hr27);
\draw [wire] (hr27) ++(-6.5,6.5) arc (90:-90:6.5);
\coordinate (gs27) at (894,-1403.3);
\draw [fine] (gs27) -- (tr27);
\draw [both] (busr.east |- 0,-1375) -- (io3.west |- 0,-1375);
\draw [rail] (971,-1334) -- (971,-1326) -- (997.3,-1326) -- (997.3,-1334);
\draw [railt] (971.5,-1347) -- (971.5,-1355.5) (971.5,-1368.5) -- (971.5,-1376.5) (971.5,-1389.5) -- (971.5,-1397);
\draw [rail] (997.3,-1346.7) -- (997.3,-1358.3) (997.3,-1366.7) -- (997.3,-1380) (997.3,-1386.7) -- (997.3,-1400) (997.3,-1408) -- (997.3,-1416.7) -- (971,-1416.7) -- (971,-1410);
\coordinate (ga) at (911,-1455);
\coordinate (gb) at (939.3,-1457);
\coordinate (gc) at (939.3,-1430);
\coordinate (gd) at (976,-1455);
\coordinate (ge) at (950.7,-1455);
\coordinate (gf) at (950.7,-1430);
\draw [wire] (ga) -- (ga -| gb);
\draw [wire,-{Stealth[length=5pt,width=4pt,inset=.5pt]}] (gb) -- (gc);
\draw [wire,-{Stealth[length=5pt,width=4pt,inset=.5pt]}] (gd) -- (ge) -- (gf);
\end{tikzpicture}
\end{document}
